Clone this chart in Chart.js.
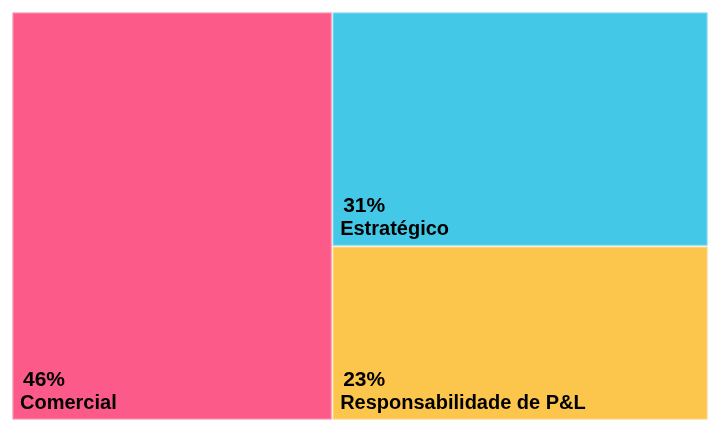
<!DOCTYPE html>
<html>
<head>
<meta charset="utf-8">
<script src="https://cdn.jsdelivr.net/npm/chart.js@4.4.1/dist/chart.umd.min.js"></script>
<style>
  html, body { margin: 0; padding: 0; background: #fff; }
  #wrap { width: 722px; height: 434px; }
</style>
</head>
<body>
<div id="wrap"><canvas id="treeChart"></canvas></div>
<script>
// data
var categories = ['Comercial', 'Estratégico', 'Responsabilidade de P&L'];
var shares = [46, 31, 23];
var cellColors = ['#FC5A89', '#43C8E8', '#FCC54B'];

// simple treemap layout in value units (0..100 on both axes):
// first (largest) item takes a full height column, the rest stack in the remaining column
function layoutCells(values) {
  var total = values.reduce(function (a, b) { return a + b; }, 0);
  var cells = [];
  var x0 = 100 * values[0] / total;
  cells.push({ x0: 0, x1: x0, y0: 0, y1: 100 });
  var rest = total - values[0];
  var top = 100;
  for (var i = 1; i < values.length; i++) {
    var h = 100 * values[i] / rest;
    cells.push({ x0: x0, x1: 100, y0: top - h, y1: top });
    top -= h;
  }
  return cells;
}

var treemapPlugin = {
  id: 'treemapCells',
  afterDatasetsDraw: function (chart) {
    var ctx = chart.ctx;
    var xs = chart.scales.x, ys = chart.scales.y;
    var cells = layoutCells(shares);
    ctx.save();
    cells.forEach(function (c, i) {
      var left = xs.getPixelForValue(c.x0), right = xs.getPixelForValue(c.x1);
      var topPx = ys.getPixelForValue(c.y1), bottom = ys.getPixelForValue(c.y0);
      ctx.fillStyle = cellColors[i];
      ctx.fillRect(left + 0.5, topPx + 0.5, right - left - 1, bottom - topPx - 1);
      ctx.strokeStyle = 'rgba(255,255,255,0.35)';
      ctx.lineWidth = 1;
      ctx.strokeRect(left + 1, topPx + 1, right - left - 2, bottom - topPx - 2);

      ctx.fillStyle = '#000';
      ctx.textAlign = 'left';
      ctx.textBaseline = 'alphabetic';
      ctx.font = 'bold 20px "Liberation Sans", Arial, sans-serif';
      ctx.fillText(categories[i], left + 8, bottom - 11);
      ctx.font = 'bold 21px "Liberation Sans", Arial, sans-serif';
      ctx.fillText(shares[i] + '%', left + 11, bottom - 34);
    });
    ctx.restore();
  }
};

var myTreeChart = new Chart(document.getElementById('treeChart'), {
  type: 'scatter',
  data: {
    datasets: [{ label: 'Participação', data: [], showLine: false }]
  },
  options: {
    responsive: true,
    maintainAspectRatio: false,
    animation: false,
    layout: { padding: { left: 12, right: 14, top: 12, bottom: 14 } },
    plugins: { legend: { display: false }, tooltip: { enabled: false } },
    scales: {
      x: { type: 'linear', min: 0, max: 100, display: false },
      y: { type: 'linear', min: 0, max: 100, display: false }
    }
  },
  plugins: [treemapPlugin]
});
</script>
</body>
</html>
